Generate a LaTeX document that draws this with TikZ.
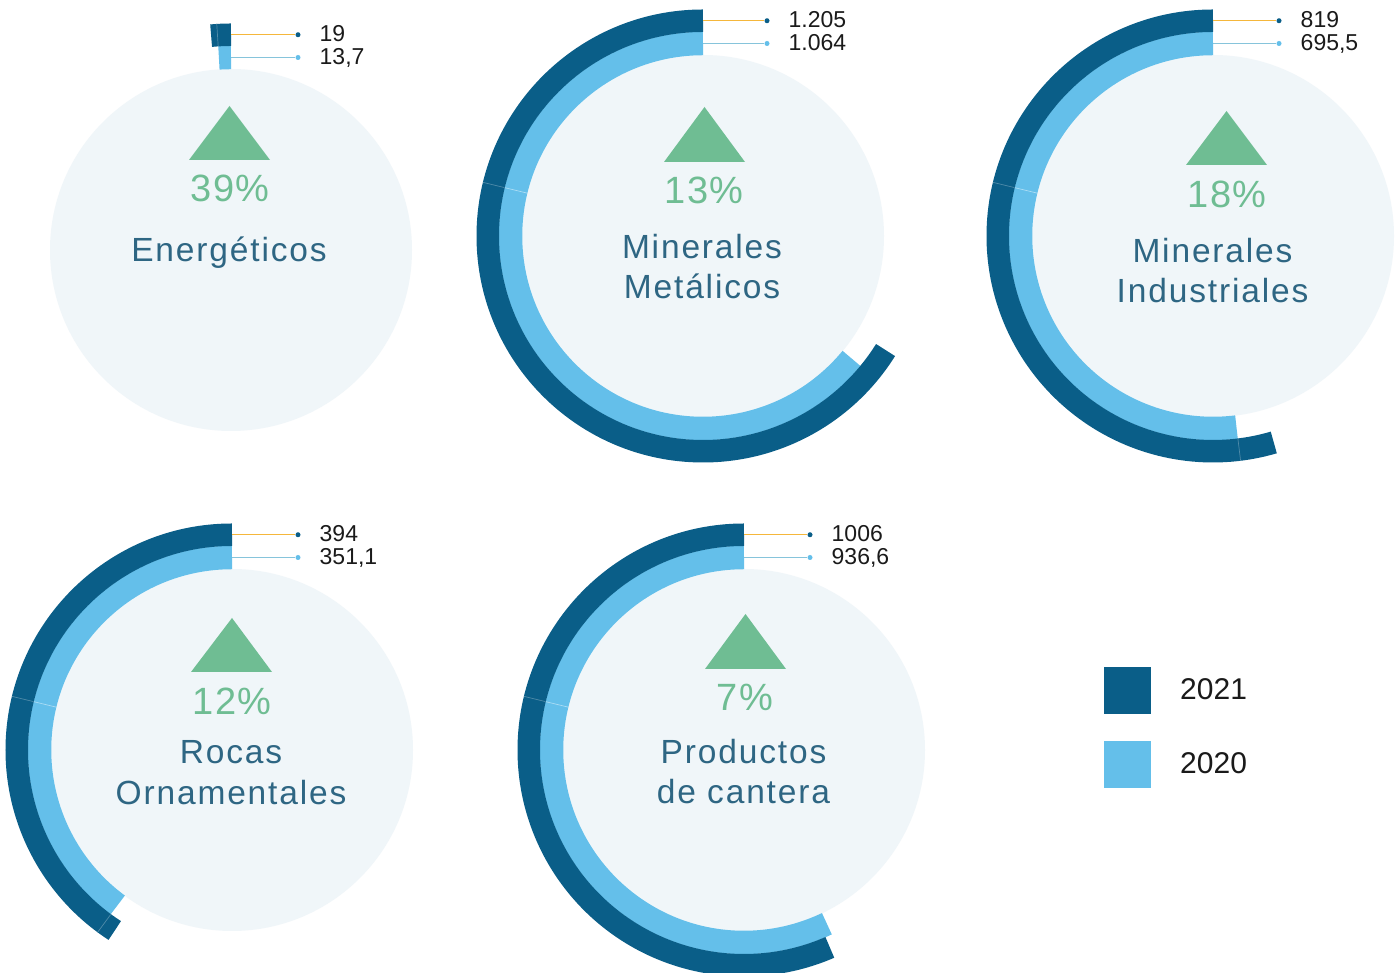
\documentclass[tikz,border=0pt]{standalone}
\usepackage{fontspec}
\setmainfont{Liberation Sans}
\newfontfamily\catfont[LetterSpace=5.5]{Liberation Sans}
\newfontfamily\pctfont[LetterSpace=3]{Liberation Sans}
\usetikzlibrary{calc}
\definecolor{ringdark}{HTML}{0A5E88}
\definecolor{ringlight}{HTML}{64BFEA}
\definecolor{bgdisc}{HTML}{F0F6F9}
\definecolor{upgreen}{HTML}{6FBD93}
\definecolor{cattext}{HTML}{2E6683}
\definecolor{leadorange}{HTML}{F5B73B}
\definecolor{leadblue}{HTML}{86C4DB}
\definecolor{valtext}{HTML}{1A1A1A}
\tikzset{
  dotdark/.style={circle, fill=ringdark, inner sep=0pt, minimum size=5pt},
  dotlight/.style={circle, fill=ringlight, inner sep=0pt, minimum size=5pt},
  vallabel/.style={anchor=base west, inner sep=0pt, text=valtext, font=\fontsize{23}{23}\selectfont},
  pctlabel/.style={anchor=base, inner sep=0pt, text=upgreen, font=\pctfont\fontsize{38}{38}\selectfont},
  catlabel/.style={anchor=base, inner sep=0pt, text=cattext, font=\catfont\fontsize{33.5}{40}\selectfont},
  legtext/.style={anchor=base west, inner sep=0pt, text=valtext, font=\fontsize{30}{30}\selectfont},
  seamdark/.style={ringdark!72!white, line width=0.7pt},
  seamlight/.style={ringlight!55!white, line width=0.7pt},
}
% #1 name, #2 centre, #3 dark end angle, #4 light end angle, #5 leader length, #6 value 2021, #7 value 2020
\newcommand\ringchart[7]{%
  \coordinate (#1) at (#2);
  \fill[bgdisc] (#1) circle[radius=181];
  \draw[ringlight, line width=23.5pt] ($(#1)+(90:192.5)$) arc[start angle=90, end angle=#4, radius=192.5];
  \draw[ringdark, line width=22.5pt] ($(#1)+(90:215.25)$) arc[start angle=90, end angle=#3, radius=215.25];
  \coordinate (#1-dk) at ($(#1)+(0,215.25)$);
  \coordinate (#1-lt) at ($(#1)+(0,192.5)$);
  \node[dotdark] (#1-ddot) at ($(#1-dk)+(#5,0)$) {};
  \node[dotlight] (#1-ldot) at ($(#1-lt)+(#5,0)$) {};
  \draw[leadorange, line width=1.2pt] (#1-dk) -- (#1-ddot);
  \draw[leadblue, line width=1.2pt] (#1-lt) -- (#1-ldot);
  \node[vallabel] (#1-v1) at ($(#1-ddot)+(21.5,-7)$) {#6};
  \node[vallabel] (#1-v2) at ($(#1-ldot)+(21.5,-7)$) {#7};
}
\newcommand\ringseam[2]{%
  \draw[seamlight] ($(#1)+(#2:181)$) -- ($(#1)+(#2:204)$);
  \draw[seamdark] ($(#1)+(#2:204.5)$) -- ($(#1)+(#2:226.5)$);
}
\newcommand\darkseam[2]{%
  \draw[seamdark] ($(#1)+(#2:204.5)$) -- ($(#1)+(#2:226.5)$);
}
\begin{document}
\begin{tikzpicture}[x=1pt, y=1pt]
\fill[white] (0,0) rectangle (1398,973);
\useasboundingbox (0,0) rectangle (1398,973);

% Energeticos
\ringchart{ca}{231,723}{95.3}{93.6}{67}{19}{13,7}
\darkseam{ca}{93.6}
\fill[upgreen] (229.5,867) -- (189,813) -- (270,813) -- cycle;
\node[pctlabel] (ca-p) at (230,771) {39\%};
\node[catlabel] (ca-t) at (229,711) {Energéticos};

% Minerales Metalicos
\ringchart{cb}{703,737}{328}{320.5}{64}{1.205}{1.064}
\ringseam{cb}{166.3}
\fill[upgreen] (704.5,866) -- (664,811) -- (745,811) -- cycle;
\node[pctlabel] (cb-p) at (704,769) {13\%};
\node[catlabel] (cb-t1) at (702,714) {Minerales};
\node[catlabel] (cb-t2) at (702,674) {Metálicos};

% Minerales Industriales
\ringchart{cc}{1213,737}{286.4}{277}{66}{819}{695,5}
\ringseam{cc}{166.3}
\darkseam{cc}{277}
\fill[upgreen] (1226.5,862) -- (1186,808) -- (1267,808) -- cycle;
\node[pctlabel] (cc-p) at (1227,765) {18\%};
\node[catlabel] (cc-t1) at (1212.5,710) {Minerales};
\node[catlabel] (cc-t2) at (1212.5,670) {Industriales};

% Rocas Ornamentales
\ringchart{cd}{232,223}{237}{233.6}{66}{394}{351,1}
\ringseam{cd}{166.3}
\darkseam{cd}{233.6}
\fill[upgreen] (232,355) -- (191,301) -- (272,301) -- cycle;
\node[pctlabel] (cd-p) at (232,258) {12\%};
\node[catlabel] (cd-t1) at (231,209) {Rocas};
\node[catlabel] (cd-t2) at (231,168) {Ornamentales};

% Productos de cantera
\ringchart{ce}{744,223}{293.5}{295.5}{66}{1006}{936,6}
\ringseam{ce}{166.3}
\fill[upgreen] (745.5,359) -- (705,304) -- (786,304) -- cycle;
\node[pctlabel] (ce-p) at (745,262) {7\%};
\node[catlabel] (ce-t1) at (743.5,209) {Productos};
\node[catlabel] (ce-t2) at (743.5,169) {de cantera};

% legend
\fill[ringdark] (1104,259) rectangle (1151,306);
\fill[ringlight] (1104,185) rectangle (1151,232);
\node[legtext] (l21) at (1180,273) {2021};
\node[legtext] (l20) at (1180,199) {2020};
\end{tikzpicture}
\end{document}
